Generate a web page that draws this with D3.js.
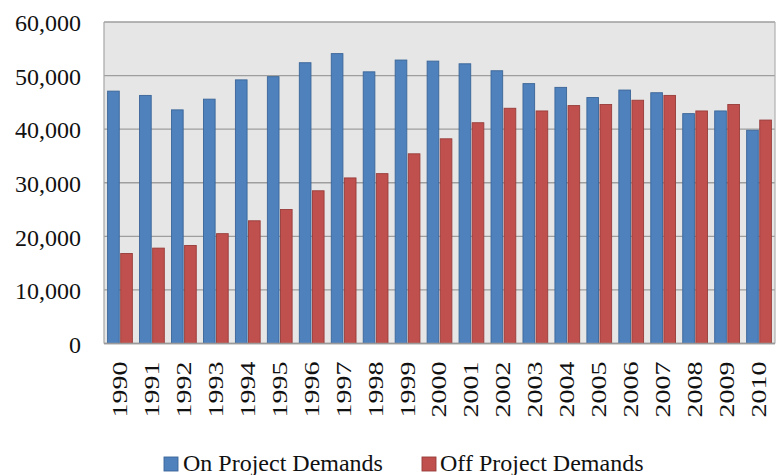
<!DOCTYPE html>
<html>
<head>
<meta charset="utf-8">
<script src="https://cdn.jsdelivr.net/npm/d3@7"></script>
<style>
  html, body { margin: 0; padding: 0; background: #ffffff; }
  svg { display: block; }
  text { font-family: "Liberation Serif", "Times New Roman", serif; fill: #111; }
</style>
</head>
<body>
<svg id="chart" width="781" height="475"></svg>
<script>
// Annual water demands, 1990-2010
const years = ["1990","1991","1992","1993","1994","1995","1996","1997","1998","1999","2000",
               "2001","2002","2003","2004","2005","2006","2007","2008","2009","2010"];
const onProject  = [47100, 46300, 43600, 45600, 49200, 49800, 52400, 54100, 50700, 52900, 52700,
                    52200, 50900, 48500, 47800, 45900, 47300, 46800, 42900, 43400, 39800];
const offProject = [16800, 17800, 18300, 20500, 22900, 25000, 28500, 30900, 31700, 35400, 38200,
                    41200, 43900, 43400, 44400, 44600, 45400, 46300, 43400, 44600, 41700];
const seriesNames = ["On Project Demands", "Off Project Demands"];
const yTicks = [0, 10000, 20000, 30000, 40000, 50000, 60000];

const fills   = ["#4f81bd", "#c0504d"];
const strokes = ["#3a6597", "#973c3a"];

const svg = d3.select("#chart");
const plot = { left: 104, right: 775, top: 22, bottom: 343.5 };

const x0 = d3.scaleBand().domain(years).range([plot.left, plot.right]).padding(0);
const x1 = d3.scaleBand().domain([0, 1])
  .range([3.6, x0.bandwidth() - 3.6]).paddingInner(0.11).paddingOuter(0);
const y = d3.scaleLinear().domain([0, 60000]).range([plot.bottom, plot.top]);

// plot background
svg.append("rect")
  .attr("x", plot.left).attr("y", plot.top)
  .attr("width", plot.right - plot.left).attr("height", plot.bottom - plot.top)
  .attr("fill", "#e6e6e6");

// horizontal gridlines
svg.append("g")
  .selectAll("line")
  .data(yTicks)
  .join("line")
  .attr("x1", plot.left).attr("x2", plot.right)
  .attr("y1", d => y(d)).attr("y2", d => y(d))
  .attr("stroke", "#9e9e9e").attr("stroke-width", 1.4);

// plot frame (left and right edges)
svg.append("line")
  .attr("x1", plot.left).attr("x2", plot.left)
  .attr("y1", plot.top).attr("y2", plot.bottom)
  .attr("stroke", "#a6a6a6").attr("stroke-width", 1.2);
svg.append("line")
  .attr("x1", plot.right).attr("x2", plot.right)
  .attr("y1", plot.top).attr("y2", plot.bottom)
  .attr("stroke", "#b0b0b0").attr("stroke-width", 1.2);

// bars
const rows = years.map((yr, i) => ({ year: yr, vals: [onProject[i], offProject[i]] }));
const groups = svg.append("g")
  .selectAll("g")
  .data(rows)
  .join("g")
  .attr("transform", d => `translate(${x0(d.year)},0)`);

groups.selectAll("rect")
  .data(d => d.vals.map((v, s) => ({ s, v })))
  .join("rect")
  .attr("x", d => x1(d.s))
  .attr("width", x1.bandwidth())
  .attr("y", d => y(d.v))
  .attr("height", d => y(0) - y(d.v))
  .attr("fill", d => fills[d.s])
  .attr("stroke", d => strokes[d.s])
  .attr("stroke-width", 0.9);

// baseline
svg.append("line")
  .attr("x1", plot.left).attr("x2", plot.right)
  .attr("y1", plot.bottom).attr("y2", plot.bottom)
  .attr("stroke", "#9a9a9a").attr("stroke-width", 1.4);

// y axis labels
const yAxis = d3.axisLeft(y)
  .tickValues(yTicks)
  .tickFormat(d3.format(","))
  .tickSize(0)
  .tickPadding(0);
const gy = svg.append("g")
  .attr("transform", `translate(81,1)`)
  .call(yAxis);
gy.select(".domain").remove();
gy.selectAll("text")
  .attr("font-family", "Liberation Serif, serif")
  .attr("font-size", 24)
  .attr("fill", "#111");

// x axis labels, rotated
const xAxis = d3.axisBottom(x0).tickSize(0).tickPadding(0);
const gx = svg.append("g")
  .attr("transform", `translate(0,${plot.bottom})`)
  .call(xAxis);
gx.select(".domain").remove();
gx.selectAll("text")
  .attr("font-family", "Liberation Serif, serif")
  .attr("font-size", 20.5)
  .attr("fill", "#111")
  .attr("text-anchor", "end")
  .attr("transform", "rotate(-90)")
  .attr("x", -18)
  .attr("y", 0)
  .attr("dy", "0.34em")
  .attr("textLength", 56)
  .attr("lengthAdjust", "spacingAndGlyphs");

// legend
const legendItems = [
  { name: seriesNames[0], sx: 164, tx: 183 },
  { name: seriesNames[1], sx: 422, tx: 440 }
];
const lg = svg.append("g");
legendItems.forEach((it, i) => {
  lg.append("rect")
    .attr("x", it.sx).attr("y", 457)
    .attr("width", 14).attr("height", 14)
    .attr("fill", fills[i])
    .attr("stroke", strokes[i]).attr("stroke-width", 0.9);
  lg.append("text")
    .attr("x", it.tx).attr("y", 471)
    .attr("font-size", 24)
    .text(it.name);
});
</script>
</body>
</html>
